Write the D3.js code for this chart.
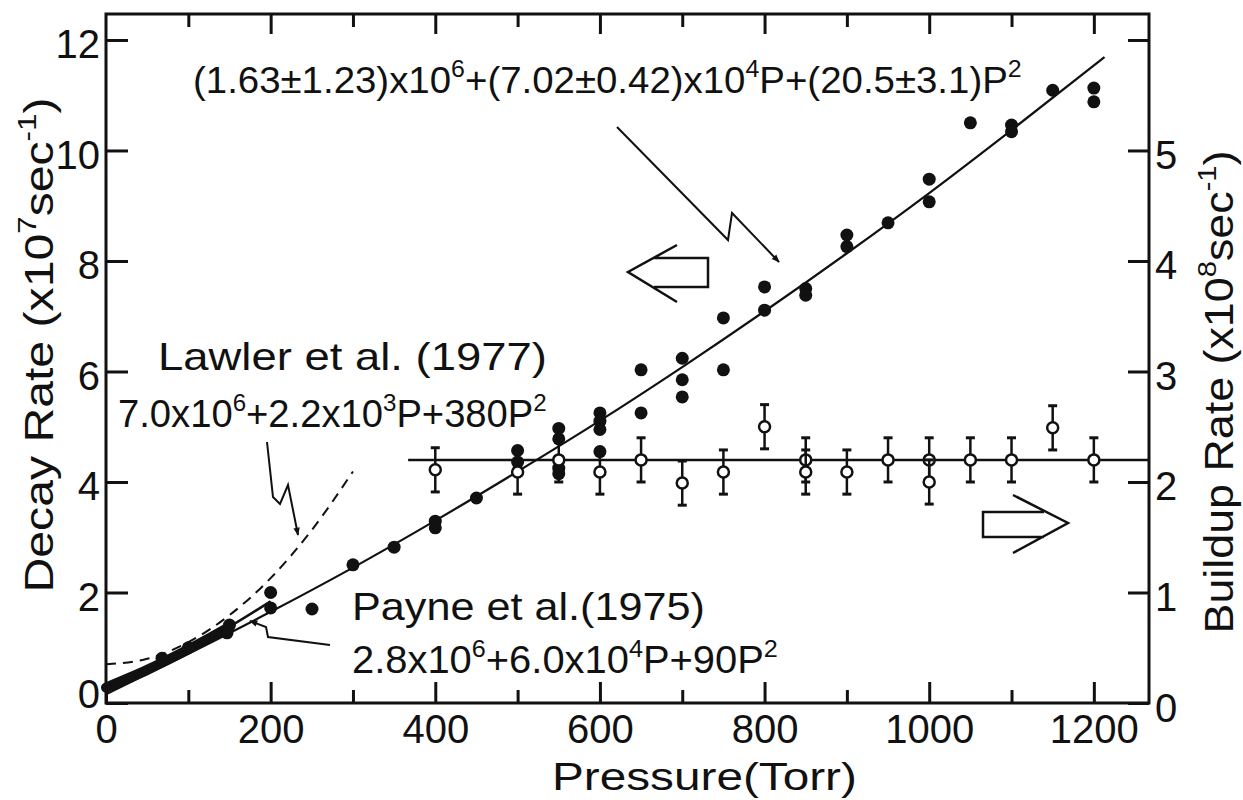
<!DOCTYPE html>
<html>
<head>
<meta charset="utf-8">
<script src="https://cdn.jsdelivr.net/npm/d3@7"></script>
<style>
  body { margin: 0; background: #fff; }
  svg { display: block; font-family: "Liberation Sans", Arial, sans-serif; }
</style>
</head>
<body>
<div id="chart"></div>
<script>
// decay rate (left axis, x10^7 sec^-1)
const decayP = [68, 100, 147, 150, 200, 200, 300, 350, 400, 400, 450, 500, 500, 550, 550, 550, 550,
  600, 600, 600, 600, 650, 650, 700, 700, 700, 750, 750, 800, 800, 850, 850, 900, 900, 950,
  1000, 1000, 1050, 1100, 1100, 1150, 1200, 1200];
const decayV = [0.81, 1.0, 1.27, 1.41, 2.0, 1.72, 2.50, 2.82, 3.29, 3.17, 3.71, 4.57, 4.36, 4.97, 4.78, 4.25, 4.15,
  5.25, 5.10, 4.95, 4.55, 6.03, 5.25, 6.24, 5.85, 5.54, 6.03, 6.97, 7.53, 7.11, 7.50, 7.38, 8.47, 8.26, 8.69,
  9.48, 9.07, 10.5, 10.46, 10.34, 11.09, 11.13, 10.88];

// buildup rate (right axis, x10^8 sec^-1)
const buildP = [400, 500, 550, 600, 650, 700, 750, 800, 850, 850, 900, 950, 1000, 1000, 1050, 1100, 1150, 1200];
const buildV = [2.11, 2.09, 2.2, 2.09, 2.2, 1.99, 2.09, 2.5, 2.2, 2.09, 2.09, 2.2, 2.2, 2.0, 2.2, 2.2, 2.49, 2.2];
const buildErr = 0.2;
const buildMean = 2.2;
const buildLineP = [367, 1267];

// fitted curves
const fitP = [0, 100, 200, 300, 400, 500, 600, 700, 800, 900, 1000, 1100, 1213];
const fitV = [0.16, 0.89, 1.65, 2.45, 3.30, 4.19, 5.11, 6.08, 7.09, 8.14, 9.23, 10.37, 11.69];
const lawlerP = [0, 50, 100, 150, 200, 250, 300];
const lawlerV = [0.70, 0.80, 1.10, 1.59, 2.26, 3.13, 4.19];
const payneP = [0, 50, 100, 150, 200];
const payneV = [0.28, 0.60, 0.97, 1.38, 1.84];
const payneBandMax = 155;

const xTicks = [0, 200, 400, 600, 800, 1000, 1200];
const xMinor = [100, 300, 500, 700, 900, 1100];
const yLeftTicks = [0, 2, 4, 6, 8, 10, 12];
const yRightTicks = [0, 1, 2, 3, 4, 5, 6];

const W = 1243, H = 800;
const svg = d3.select('#chart').append('svg').attr('width', W).attr('height', H);
const ink = '#111';

const x = d3.scaleLinear([0, 1267], [106, 1149]);
const yL = d3.scaleLinear([0, 12.47], [703, 14]);
const yR = d3.scaleLinear([0, 6.235], [703, 14]);

// axes
const fs = 40;
function styleAxis(g) {
  g.select('.domain').remove();
  g.selectAll('line').attr('stroke', ink).attr('stroke-width', 3);
  g.selectAll('text').attr('font-size', fs).attr('fill', ink).attr('font-family', null);
}
svg.append('g').attr('transform', `translate(0,${yL(0)})`)
  .call(d3.axisBottom(x).tickValues(xTicks).tickSize(-21).tickPadding(12).tickFormat(d3.format('d')))
  .call(styleAxis);
svg.append('g').attr('transform', `translate(0,${yL(0)})`)
  .call(d3.axisBottom(x).tickValues(xMinor).tickSize(-13).tickFormat(''))
  .call(styleAxis);
svg.append('g').attr('transform', `translate(0,${yL.range()[1]})`)
  .call(d3.axisTop(x).tickValues(xTicks.filter(d => d > 0)).tickSize(-20).tickFormat(''))
  .call(styleAxis);
svg.append('g').attr('transform', `translate(0,${yL.range()[1]})`)
  .call(d3.axisTop(x).tickValues(xMinor).tickSize(-13).tickFormat(''))
  .call(styleAxis);
const gl = svg.append('g').attr('transform', `translate(${x(0)},0)`)
  .call(d3.axisLeft(yL).tickValues(yLeftTicks).tickSize(-22).tickPadding(6))
  .call(styleAxis);
gl.selectAll('text').attr('dy', '0.45em');
gl.selectAll('.tick').filter(d => d === 0).select('text').attr('dy', '0.1em');
const gr = svg.append('g').attr('transform', `translate(${x.range()[1]},0)`)
  .call(d3.axisRight(yR).tickValues(yRightTicks).tickSize(-21).tickPadding(6)
    .tickFormat(d => d === 6 ? '' : d))
  .call(styleAxis);
gr.selectAll('text').attr('dy', '0.45em');

svg.append('rect')
  .attr('x', x(0)).attr('y', yL.range()[1])
  .attr('width', x.range()[1] - x(0)).attr('height', yL(0) - yL.range()[1])
  .attr('fill', 'none').attr('stroke', ink).attr('stroke-width', 3);

// curves
const lineL = d3.line().x(d => x(d[0])).y(d => yL(d[1])).curve(d3.curveMonotoneX);
const zip = (a, b) => a.map((v, i) => [v, b[i]]);

const payne = zip(payneP, payneV);
svg.append('path').attr('d', lineL(payne.filter(d => d[0] <= payneBandMax)))
  .attr('fill', 'none').attr('stroke', ink).attr('stroke-width', 10).attr('stroke-linecap', 'round');
svg.append('path').attr('d', lineL(payne))
  .attr('fill', 'none').attr('stroke', ink).attr('stroke-width', 2.5);
svg.append('path').attr('d', lineL(zip(lawlerP, lawlerV)))
  .attr('fill', 'none').attr('stroke', ink).attr('stroke-width', 2).attr('stroke-dasharray', '10 7');
svg.append('path').attr('d', lineL(zip(fitP, fitV)))
  .attr('fill', 'none').attr('stroke', ink).attr('stroke-width', 2.2);

// buildup mean line
svg.append('line')
  .attr('x1', x(buildLineP[0])).attr('x2', x(buildLineP[1]))
  .attr('y1', yR(buildMean)).attr('y2', yR(buildMean))
  .attr('stroke', ink).attr('stroke-width', 2.5);

// decay points
svg.append('g').selectAll('circle').data(zip(decayP, decayV)).join('circle')
  .attr('cx', d => x(d[0])).attr('cy', d => yL(d[1])).attr('r', 6.5).attr('fill', ink);

// buildup points with error bars
const gb = svg.append('g').selectAll('g').data(zip(buildP, buildV)).join('g')
  .attr('transform', d => `translate(${x(d[0])},0)`);
gb.append('line').attr('y1', d => yR(d[1] - buildErr)).attr('y2', d => yR(d[1] + buildErr))
  .attr('stroke', ink).attr('stroke-width', 2.5);
gb.append('line').attr('x1', -4.5).attr('x2', 4.5).attr('y1', d => yR(d[1] + buildErr)).attr('y2', d => yR(d[1] + buildErr))
  .attr('stroke', ink).attr('stroke-width', 3);
gb.append('line').attr('x1', -4.5).attr('x2', 4.5).attr('y1', d => yR(d[1] - buildErr)).attr('y2', d => yR(d[1] - buildErr))
  .attr('stroke', ink).attr('stroke-width', 3);
gb.append('circle').attr('cy', d => yR(d[1])).attr('r', 5.5)
  .attr('fill', '#fff').attr('stroke', ink).attr('stroke-width', 2.5);

// text helpers
function rich(parent, parts, size, supSize, supDy) {
  const t = parent.append('text').attr('font-size', size).attr('fill', ink);
  let up = false;
  parts.forEach(([s, sup]) => {
    const sp = t.append('tspan').text(s);
    if (sup && !up) { sp.attr('dy', -supDy).attr('font-size', supSize); up = true; }
    else if (sup) { sp.attr('font-size', supSize); }
    else if (up) { sp.attr('dy', supDy); up = false; }
  });
  return t;
}
function label(parts, x0, base, width, opts = {}) {
  const g = svg.append('g');
  const t = rich(g, parts, opts.size || 38, opts.sup || 24, opts.supDy || 16);
  const w = t.node().getBBox().width;
  const s = width / w;
  if (opts.rotate) {
    t.attr('text-anchor', 'middle');
    g.attr('transform', `translate(${x0},${base}) rotate(-90) scale(${s},1)`);
  } else {
    g.attr('transform', `translate(${x0},${base}) scale(${s},1)`);
  }
  return g;
}

label([['(1.63±1.23)x10', 0], ['6', 1], ['+(7.02±0.42)x10', 0], ['4', 1], ['P+(20.5±3.1)P', 0], ['2', 1]], 193, 93, 829, { size: 37 });
label([['Lawler et al. (1977)', 0]], 158, 370, 389, { size: 38 });
label([['7.0x10', 0], ['6', 1], ['+2.2x10', 0], ['3', 1], ['P+380P', 0], ['2', 1]], 118, 427, 429, { size: 38 });
label([['Payne et al.(1975)', 0]], 352, 620, 353, { size: 38 });
label([['2.8x10', 0], ['6', 1], ['+6.0x10', 0], ['4', 1], ['P+90P', 0], ['2', 1]], 352, 673, 426, { size: 38 });
label([['Pressure(Torr)', 0]], 552, 790, 305, { size: 38 });
label([['Decay Rate (x10', 0], ['7', 1], ['sec', 0], ['-1', 1], [')', 0]], 53, 345, 495, { size: 40, sup: 26, supDy: 17, rotate: true });
label([['Buildup  Rate (x10', 0], ['8', 1], ['sec', 0], ['-1', 1], [')', 0]], 1233, 392, 483, { size: 40, sup: 26, supDy: 17, rotate: true });

// Payne legend marker
svg.append('circle').attr('cx', 312).attr('cy', 609).attr('r', 6.5).attr('fill', ink);

// pointer arrows
svg.append('defs').append('marker').attr('id', 'head')
  .attr('viewBox', '0 0 10 10').attr('refX', 9).attr('refY', 5)
  .attr('markerWidth', 14).attr('markerHeight', 8).attr('markerUnits', 'userSpaceOnUse')
  .attr('orient', 'auto')
  .append('path').attr('d', 'M0,1 L10,5 L0,9 Z').attr('fill', ink);
const pointers = [
  [[617, 127], [728, 240], [732, 213], [779, 262]],
  [[267, 442], [273, 497], [280, 504], [288, 485], [298, 535]],
  [[330, 645], [268, 637], [266, 627], [250, 621]]
];
svg.append('g').selectAll('path').data(pointers).join('path')
  .attr('d', d => d3.line()(d))
  .attr('fill', 'none').attr('stroke', ink).attr('stroke-width', 2)
  .attr('marker-end', 'url(#head)');

// big open arrows
const bigArrows = [
  'M677,245 L628,272 L677,302 M654,258 L708,258 L708,287 L654,287',
  'M1013,495 L1068,523 L1013,553 M1044,512 L983,512 L983,537 L1044,537'
];
svg.append('g').selectAll('path').data(bigArrows).join('path')
  .attr('d', d => d).attr('fill', 'none').attr('stroke', ink).attr('stroke-width', 2.5)
  .attr('stroke-linejoin', 'miter');
</script>
</body>
</html>
